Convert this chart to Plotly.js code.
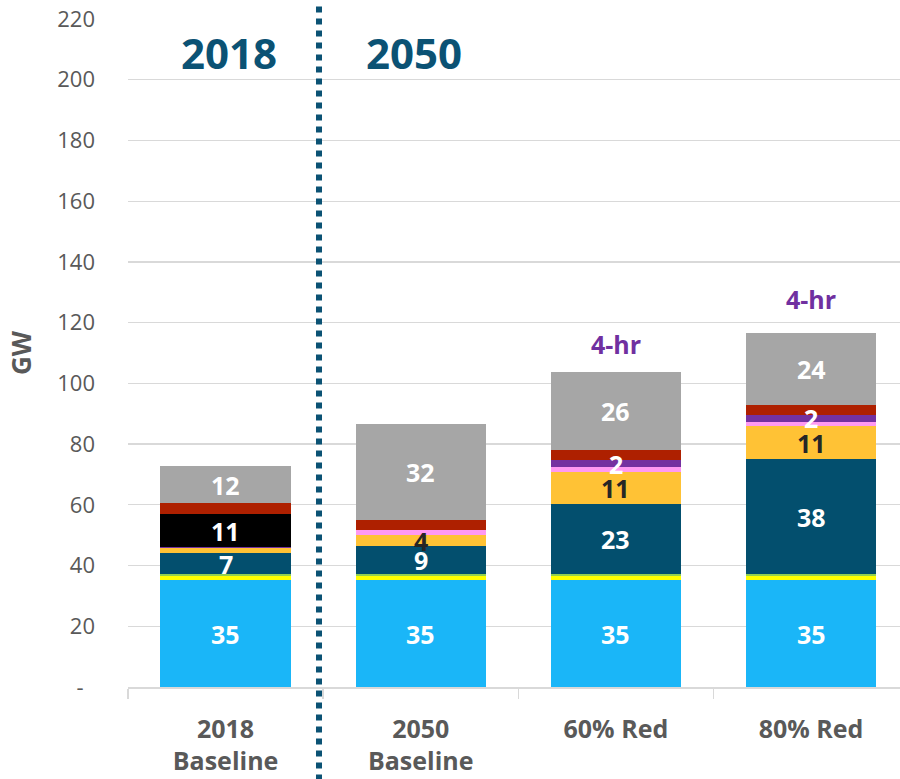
<!DOCTYPE html>
<html><head><meta charset="utf-8">
<script src="https://cdn.plot.ly/plotly-3.0.1.min.js"></script>
<style>html,body{margin:0;padding:0;background:#fff;overflow:hidden}</style>
</head><body><div id="chart" style="width:900px;height:779px"></div>
<script>
// ---- data (GW) ----
const categories = ['2018<br>Baseline', '2050<br>Baseline', '60% Red', '80% Red'];
const segLightBlue = [35.1, 35.1, 35.1, 35.1];
const segYellow    = [1.6, 1.6, 1.6, 1.6];
const segGreen     = [0.4, 0.4, 0.4, 0.4];
const segTeal      = [7.0, 9.3, 23.1, 38.0];
const segOrange    = [1.6, 3.6, 10.6, 10.7];
const segPink      = [0, 1.6, 1.6, 1.6];
const segPurple    = [0.25, 0, 2.2, 2.2];
const segBlack     = [11.1, 0, 0, 0];
const segRed       = [3.5, 3.4, 3.5, 3.4];
const segGray      = [12.2, 31.7, 25.6, 23.7];
const yTickVals    = [0, 20, 40, 60, 80, 100, 120, 140, 160, 180, 200, 220];
const yTickText    = ['-\u00a0\u00a0', '20', '40', '60', '80', '100', '120', '140', '160', '180', '200', '220'];
const periodLabels = ['2018', '2050'];
const storageNote  = '4-hr';

const FONT = 'Open Sans, Liberation Sans, sans-serif';
const series = [
  {name: 'Light blue', y: segLightBlue, color: '#1ab6f8', label: true,  tc: '#ffffff'},
  {name: 'Yellow',     y: segYellow,    color: '#ffff00', label: false, tc: '#ffffff'},
  {name: 'Green',      y: segGreen,     color: '#92d050', label: false, tc: '#ffffff'},
  {name: 'Teal',       y: segTeal,      color: '#034f6e', label: true,  tc: '#ffffff'},
  {name: 'Orange',     y: segOrange,    color: '#ffc235', label: true,  tc: '#262626'},
  {name: 'Pink',       y: segPink,      color: '#ff99f2', label: false, tc: '#ffffff'},
  {name: 'Purple',     y: segPurple,    color: '#7431a0', label: true,  tc: '#ffffff'},
  {name: 'Black',      y: segBlack,     color: '#000000', label: true,  tc: '#ffffff'},
  {name: 'Red',        y: segRed,       color: '#ae2000', label: false, tc: '#ffffff'},
  {name: 'Gray',       y: segGray,      color: '#a6a6a6', label: true,  tc: '#ffffff'}
];

const barTraces = series.map(s => ({
  type: 'bar',
  name: s.name,
  x: categories,
  y: s.y,
  marker: {color: s.color, line: {width: 0}},
  hoverinfo: 'skip'
}));

// value labels drawn above all bars, at the middle of each stacked segment
const labelAnns = [];
const cum = categories.map(() => 0);
series.forEach(s => {
  s.y.forEach((v, i) => {
    const mid = cum[i] + v / 2;
    cum[i] += v;
    if (s.label && v >= 2) {
      labelAnns.push({
        text: String(Math.round(v)), x: categories[i], y: mid, xref: 'x', yref: 'y',
        showarrow: false, yshift: 0,
        font: {family: FONT, size: 25, color: s.tc, weight: 'bold'}
      });
    }
  });
});
const totals = cum.slice();

const annotations = labelAnns.concat([
  {text: periodLabels[0], x: 0.02, y: 209, xref: 'x', yref: 'y', showarrow: false,
   font: {family: FONT, size: 42, color: '#0b5274', weight: 'bold'}},
  {text: periodLabels[1], x: 0.965, y: 209, xref: 'x', yref: 'y', showarrow: false,
   font: {family: FONT, size: 42, color: '#0b5274', weight: 'bold'}},
  {text: storageNote, x: categories[2], y: totals[2], yanchor: 'bottom', yshift: 9, xref: 'x', yref: 'y', showarrow: false,
   font: {family: FONT, size: 25, color: '#7030a0', weight: 'bold'}},
  {text: storageNote, x: categories[3], y: totals[3], yanchor: 'bottom', yshift: 15, xref: 'x', yref: 'y', showarrow: false,
   font: {family: FONT, size: 25, color: '#7030a0', weight: 'bold'}}
]);

const layout = {
  width: 900, height: 779,
  margin: {l: 128, r: 0, t: 19, b: 92, pad: 0},
  paper_bgcolor: '#ffffff', plot_bgcolor: '#ffffff',
  barmode: 'stack', bargap: 0.333,
  showlegend: false, hovermode: false,
  font: {family: FONT, color: '#595959'},
  xaxis: {
    type: 'category', range: [-0.5, 3.456],
    showline: true, linecolor: '#d9d9d9', linewidth: 1.5,
    ticks: 'outside', tickson: 'boundaries', ticklen: 10, tickcolor: '#d9d9d9', tickwidth: 1.5,
    showgrid: false, zeroline: false,
    tickfont: {family: FONT, size: 25, color: '#595959', weight: 'bold'},
    ticklabelstandoff: 19
  },
  yaxis: {
    range: [0, 220], tickvals: yTickVals, ticktext: yTickText,
    showgrid: true, gridcolor: '#d9d9d9', gridwidth: 1.3,
    showline: false, zeroline: false, ticks: '',
    tickfont: {family: FONT, size: 22, color: '#595959'},
    ticklabelstandoff: 32,
    title: {text: 'GW', font: {family: FONT, size: 26, color: '#595959', weight: 'bold'}, standoff: 18}
  },
  annotations: annotations,
  shapes: [{
    type: 'line', xref: 'paper', yref: 'paper',
    x0: 0.2474, x1: 0.2474, y0: -0.14, y1: 1.02,
    line: {color: '#0b5274', width: 6, dash: '6px,6px'}
  }]
};

Plotly.newPlot('chart', barTraces, layout, {displayModeBar: false, staticPlot: true});
</script>
</body></html>
